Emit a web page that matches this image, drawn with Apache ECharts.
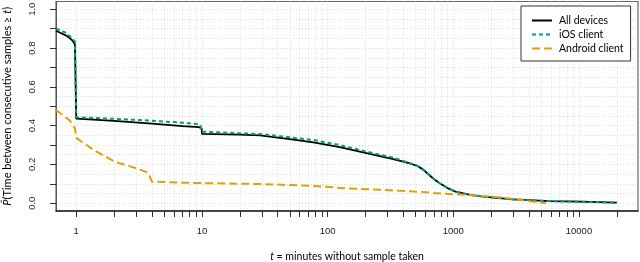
<!DOCTYPE html>
<html>
<head>
<meta charset="utf-8">
<script src="https://cdn.jsdelivr.net/npm/echarts@6/dist/echarts.min.js"></script>
<style>html,body{margin:0;padding:0;background:#fff}#c{width:640px;height:262px}</style>
</head>
<body>
<div id="c"></div>
<script>
// ---- data ----
const seriesNames = ['All devices', 'iOS client', 'Android client'];

const allT = [0.69, 0.84, 0.92, 0.976, 0.995, 1.0, 2, 4, 7, 9.5, 9.95, 10, 20, 29, 30, 50, 77, 125, 204, 333, 451, 520, 580, 640, 700, 780, 900, 1058, 1400, 1737, 2970, 5840, 10160, 20000];
const allP = [0.889, 0.863, 0.843, 0.82, 0.815, 0.436, 0.425, 0.41, 0.398, 0.392, 0.385, 0.358, 0.354, 0.350, 0.344, 0.33, 0.314, 0.289, 0.258, 0.228, 0.206, 0.192, 0.172, 0.147, 0.125, 0.103, 0.078, 0.058, 0.042, 0.034, 0.020, 0.011, 0.008, 0.003];

const iosT = [0.69, 0.84, 0.976, 0.995, 1.0, 2, 3.86, 7, 9.1, 9.7, 9.95, 10, 30, 77, 125, 204, 333, 480, 520, 580, 640, 700, 780, 900, 1058, 1400, 1737, 2970, 5840, 10160, 20000];
const iosP = [0.901, 0.877, 0.834, 0.83, 0.443, 0.435, 0.426, 0.415, 0.409, 0.405, 0.395, 0.369, 0.356, 0.326, 0.30, 0.266, 0.235, 0.20, 0.192, 0.172, 0.147, 0.125, 0.103, 0.078, 0.058, 0.042, 0.034, 0.020, 0.011, 0.008, 0.003];

const andT = [0.69, 0.89, 0.975, 1.0, 1.37, 2.03, 3.02, 3.74, 4.0, 7.1, 11.6, 30, 77, 142, 262, 376, 545, 690, 1265, 2320, 3850, 5460];
const andP = [0.481, 0.426, 0.387, 0.337, 0.275, 0.214, 0.18, 0.157, 0.111, 0.106, 0.103, 0.099, 0.089, 0.077, 0.069, 0.064, 0.059, 0.053, 0.043, 0.031, 0.013, 0.0];

const xTickValues = [1,2,3,4,5,6,7,8,9,10,20,30,40,50,60,70,80,90,100,200,300,400,500,600,700,800,900,1000,2000,3000,4000,5000,6000,7000,8000,9000,10000,20000];
const xLabelValues = [1, 10, 100, 1000, 10000];
const yTickValues = [0, 0.1, 0.2, 0.3, 0.4, 0.5, 0.6, 0.7, 0.8, 0.9, 1.0];
const yLabelValues = [0, 0.2, 0.4, 0.6, 0.8, 1.0];
const yGridValues = [0, 0.05, 0.1, 0.15, 0.2, 0.25, 0.3, 0.35, 0.4, 0.45, 0.5, 0.55, 0.6, 0.65, 0.7, 0.75, 0.8, 0.85, 0.9, 0.95, 1.0];

const pairs = (t, p) => t.map((v, i) => [v, p[i]]);

const gridLine = { show: true, lineStyle: { color: '#dadada', type: [1, 2], width: 1 } };
const tickFont = { fontFamily: 'Liberation Sans', fontSize: 9.5, color: '#222' };
const titleFont = { fontFamily: 'Lato', fontSize: 10.5, color: '#000' };
const yTitleFont = { fontFamily: 'Lato', fontSize: 11, color: '#000' };

const chart = echarts.init(document.getElementById('c'), null, { renderer: 'canvas' });
chart.setOption({
  animation: false,
  backgroundColor: '#fff',
  grid: { left: 56, right: 2, top: 1.5, bottom: 51, containLabel: false, outerBoundsMode: 'none',
          show: true, borderColor: '#666', borderWidth: 1.2, backgroundColor: 'transparent' },
  legend: {
    data: seriesNames,
    orient: 'vertical',
    left: 521, top: 6,
    padding: [9, 7, 7, 10],
    itemWidth: 20, itemHeight: 10, itemGap: 3,
    borderColor: '#333', borderWidth: 1,
    backgroundColor: '#fff',
    itemStyle: { opacity: 0 },
    textStyle: { fontFamily: 'Lato', fontSize: 10.5, color: '#000', padding: [0, 0, 0, 2] }
  },
  xAxis: [{
    type: 'log', logBase: 10, min: 0.69, max: 29500,
    position: 'bottom',
    axisLine: { show: true, onZero: false, lineStyle: { color: '#222', width: 1.5 } },
    axisTick: { show: true, length: 6, customValues: xTickValues, lineStyle: { color: '#333', width: 1 } },
    axisLabel: { show: true, customValues: xLabelValues, margin: 15, formatter: v => String(Math.round(v)), ...tickFont },
    splitLine: gridLine,
    minorTick: { show: false }, minorSplitLine: { show: false },
    name: '{i|t} = minutes without sample taken',
    nameLocation: 'middle', nameGap: 40,
    nameTextStyle: { ...titleFont, rich: { i: { ...titleFont, fontStyle: 'italic' } } }
  }],
  yAxis: [{
    type: 'value', min: -0.04, max: 1.04,
    axisLine: { show: true, onZero: false, lineStyle: { color: '#555', width: 1 } },
    axisTick: { show: true, length: 6, customValues: yTickValues, lineStyle: { color: '#333', width: 1 } },
    axisLabel: { show: true, customValues: yLabelValues, rotate: 90, margin: 19, formatter: v => v.toFixed(1), ...tickFont },
    splitLine: { show: false },
    name: '{i|P\u0302}(Time between consecutive samples \u2265 {i|t})',
    nameLocation: 'middle', nameGap: 43, nameRotate: 90,
    nameTextStyle: { ...yTitleFont, rich: { i: { ...yTitleFont, fontStyle: 'italic' } } }
  }, {
    type: 'value', min: -0.04, max: 1.04, position: 'left',
    axisLine: { show: false, onZero: false },
    axisTick: { show: false, customValues: yGridValues },
    axisLabel: { show: false, customValues: yGridValues },
    splitLine: gridLine
  }],
  series: [
    { name: seriesNames[0], type: 'line', data: pairs(allT, allP), symbol: 'none', z: 3,
      lineStyle: { color: '#000', width: 1.8, type: 'solid' }, itemStyle: { color: '#000', opacity: 0 } },
    { name: seriesNames[1], type: 'line', data: pairs(iosT, iosP), symbol: 'none', z: 4,
      lineStyle: { color: '#009E73', width: 2, type: [4, 3] }, itemStyle: { color: '#009E73', opacity: 0 } },
    { name: seriesNames[2], type: 'line', data: pairs(andT, andP), symbol: 'none', z: 5,
      lineStyle: { color: '#E69F00', width: 2, type: [8, 4] }, itemStyle: { color: '#E69F00', opacity: 0 } }
  ]
});
</script>
</body>
</html>
